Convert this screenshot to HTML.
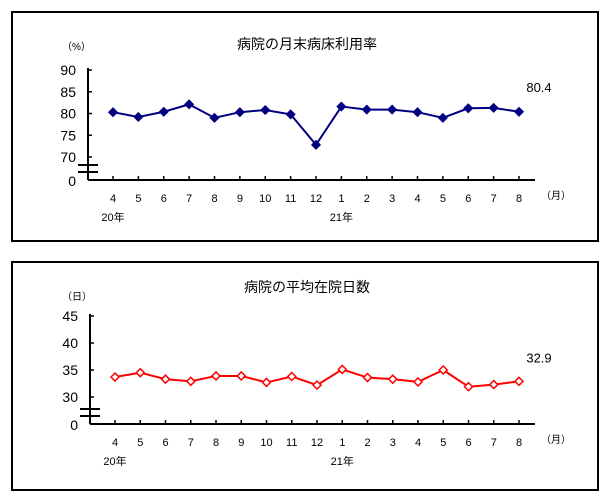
<!DOCTYPE html>
<html><head><meta charset="utf-8"><style>
body{margin:0;background:#fff}
svg{display:block;font-family:"Liberation Sans","Noto Sans CJK JP",sans-serif}
</style></head><body>
<svg id="s" width="609" height="501" viewBox="0 0 609 501">
<rect x="12" y="12" width="586" height="229" fill="none" stroke="#000" stroke-width="2"/>
<rect x="12" y="262" width="586" height="228" fill="none" stroke="#000" stroke-width="2"/>
</svg>
<script>
const months=["4","5","6","7","8","9","10","11","12","1","2","3","4","5","6","7","8"];
const bedRate=[80.3,79.2,80.4,82.1,79.0,80.3,80.8,79.8,72.8,81.6,80.9,80.9,80.3,79.0,81.2,81.3,80.4];
const stayDays=[33.7,34.5,33.3,32.9,33.9,33.9,32.7,33.8,32.2,35.1,33.6,33.3,32.8,35.0,31.9,32.3,32.9];
const ticks1=[70,75,80,85,90];
const ticks2=[30,35,40,45];
const svg=document.getElementById('s');
const NS='http://www.w3.org/2000/svg';
function mk(tag,a,txt){const e=document.createElementNS(NS,tag);for(const k in a)e.setAttribute(k,a[k]);if(txt!=null)e.textContent=txt;svg.appendChild(e);return e;}
function chart(c){
  const x=i=>c.x0+i*c.dx;
  const y=v=>c.yTop+(c.vMax-v)*(c.yBot-c.yTop)/(c.vMax-c.vMin);
  let e=mk('text',{x:307,y:c.titleY,'font-size':14,'text-anchor':'middle'},c.title);
  
  
  e=mk('text',{x:62,y:c.unitY,'font-size':10},c.unit);
  
  
  e=mk('line',{x1:c.ax,y1:c.yTop-2,x2:c.ax,y2:c.base,stroke:'#000','stroke-width':2});
  
  
  e=mk('line',{x1:c.ax,y1:c.base,x2:535,y2:c.base,stroke:'#000','stroke-width':2});
  
  
  for(const by of [c.brk,c.brk+7]){
    e=mk('line',{x1:c.ax-10,y1:by,x2:c.ax+10,y2:by,stroke:'#000','stroke-width':2});
    
    
  }
  c.ticks.forEach(t=>{
    let l=mk('line',{x1:c.ax,y1:y(t),x2:c.ax+4,y2:y(t),stroke:'#000','stroke-width':1.5});
    
    
    let tx=mk('text',{x:c.ax-12,y:y(t)+5,'font-size':14,'text-anchor':'end'},t);
    
    
  });
  e=mk('text',{x:c.ax-12,y:c.base+6,'font-size':14,'text-anchor':'end'},'0');
  
  
  months.forEach((m,i)=>{
    let tk=mk('line',{x1:x(i),y1:c.base,x2:x(i),y2:c.base-4,stroke:'#000','stroke-width':1.5});
    
    
    let tx=mk('text',{x:x(i),y:c.base+22,'font-size':11,'text-anchor':'middle'},m);
    
    
  });
  e=mk('text',{x:x(0),y:c.base+41,'font-size':11,'text-anchor':'middle'},'20年');
  
  
  e=mk('text',{x:x(9),y:c.base+41,'font-size':11,'text-anchor':'middle'},'21年');
  
  
  e=mk('text',{x:556,y:c.base+19,'font-size':10,'text-anchor':'middle'},'（月）');
  
  
  const pts=c.data.map((v,i)=>x(i)+','+y(v)).join(' ');
  e=mk('polyline',{points:pts,fill:'none',stroke:c.color,'stroke-width':2});
  
  
  c.data.forEach((v,i)=>{
    const cx=x(i),cy=y(v),r=4;
    let d=mk('polygon',{points:`${cx},${cy-r} ${cx+r},${cy} ${cx},${cy+r} ${cx-r},${cy}`,fill:c.fill,stroke:c.color,'stroke-width':1.5});
    
    
  });
  const last=c.data[c.data.length-1];
  e=mk('text',{x:x(16)+20,y:y(last)-c.lblOff,'font-size':13,'text-anchor':'middle'},last.toFixed(1));
  
  
}
chart({id:'bed-rate',title:'病院の月末病床利用率',titleY:49,unit:'（%）',unitY:50,x0:113,dx:25.375,ax:88,
  yTop:70,yBot:157,vMin:70,vMax:90,base:180,brk:165,ticks:ticks1,data:bedRate,color:'#000080',fill:'#000080',lblOff:20});
chart({id:'stay-days',title:'病院の平均在院日数',titleY:292,unit:'（日）',unitY:300,x0:115,dx:25.25,ax:90,
  yTop:316,yBot:397,vMin:30,vMax:45,base:424,brk:409,ticks:ticks2,data:stayDays,color:'#ff0000',fill:'#ffffff',lblOff:19});
</script>
</body></html>
